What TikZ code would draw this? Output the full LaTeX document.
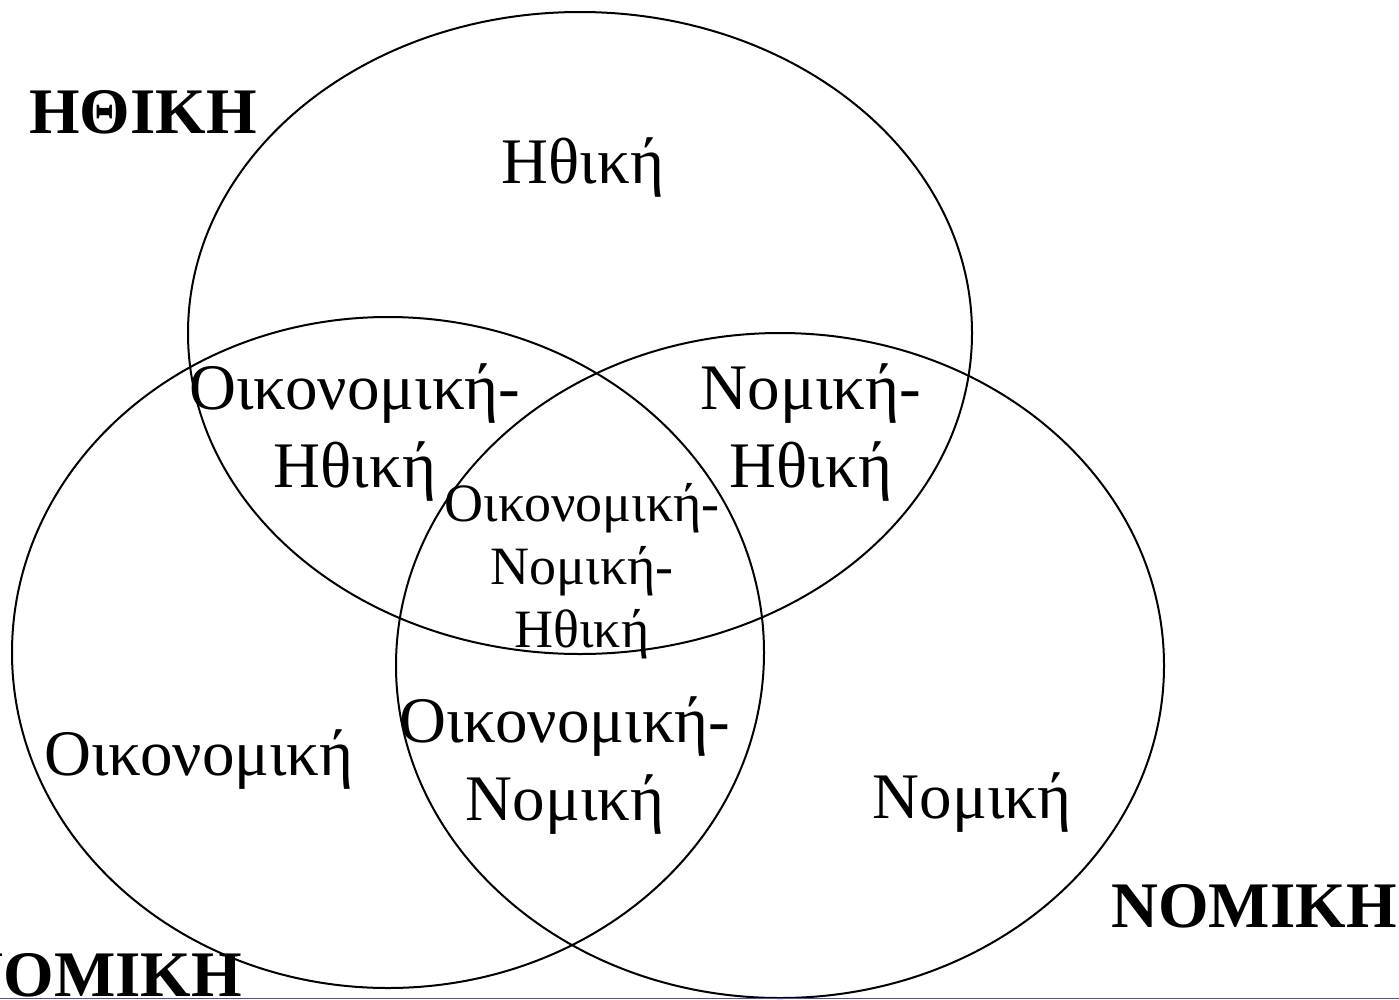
\documentclass[tikz,border=0pt]{standalone}
\usepackage{fontspec}
\setmainfont{Liberation Serif}
\usetikzlibrary{shapes.geometric}
\definecolor{ruleblue}{RGB}{80,80,160}
\begin{document}
\begin{tikzpicture}[x=1pt,y=-1pt,
  ring/.style={draw=black,line width=2pt,ellipse,inner sep=0pt},
  big/.style={font=\fontsize{65}{78}\selectfont,align=center,inner sep=0pt,anchor=base},
  mid/.style={font=\fontsize{54}{63}\selectfont,align=center,inner sep=0pt,anchor=base},
  title/.style={font=\bfseries\fontsize{65}{78}\selectfont,inner sep=0pt,anchor=base}]
\useasboundingbox (0,0) rectangle (1399,999);
\clip (0,0) rectangle (1399,999);
\fill[white] (0,0) rectangle (1399,999);
\node[ring,minimum width=784pt,minimum height=642pt] (ethics) at (580,333) {};
\node[ring,minimum width=752pt,minimum height=671pt] (economy) at (388,652.5) {};
\node[ring,minimum width=768pt,minimum height=665pt] (law) at (780,665.5) {};
\draw[ruleblue,line width=1pt] (0,998) coordinate (rl) -- (1399,998) coordinate (rr);
\node[big] (e) at (583,183) {Ηθική};
\node[big] (eh) at (355,487) {Οικονομική-\\Ηθική};
\node[big] (nh) at (811,487) {Νομική-\\Ηθική};
\node[mid] (onh) at (582,647) {Οικονομική-\\Νομική-\\Ηθική};
\node[big] (on) at (565,820) {Οικονομική-\\Νομική};
\node[big] (o) at (199,775) {Οικονομική};
\node[big] (n) at (972,818) {Νομική};
\node[title] (te) at (143,133) {ΗΘΙΚΗ};
\node[title] (tn) at (1254,927) {ΝΟΜΙΚΗ};
\node[title,anchor=base east] (to) at (242,996) {ΟΙΚΟΝΟΜΙΚΗ};
\end{tikzpicture}
\end{document}
